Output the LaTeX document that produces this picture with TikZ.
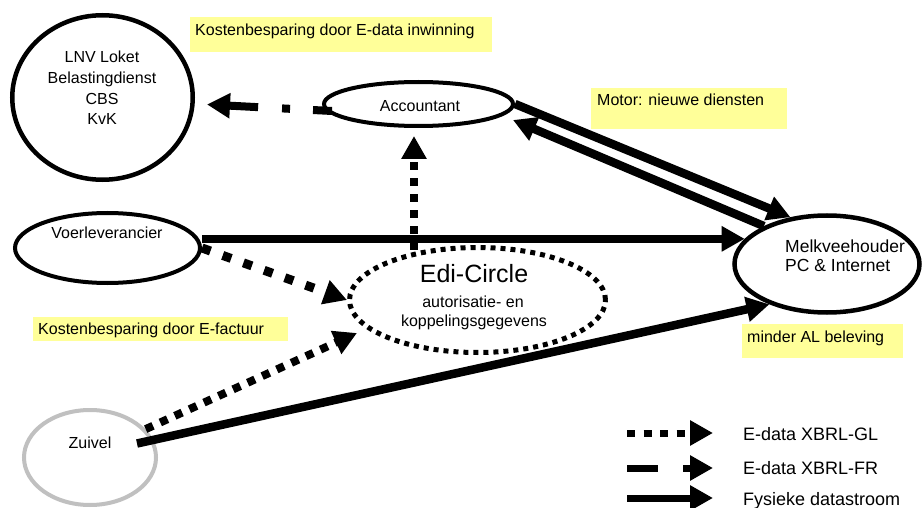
\documentclass[tikz,border=0pt]{standalone}
\usepackage{fontspec}
\setmainfont{Liberation Sans}
\usetikzlibrary{shapes.geometric,arrows.meta}
\definecolor{yboxc}{HTML}{FFFF99}
\definecolor{zgray}{HTML}{C0C0C0}
\begin{document}
\begin{tikzpicture}[x=1pt,y=-1pt,
  ell/.style={ellipse, draw, line width=4.5pt, inner sep=0pt},
  ybox/.style={fill=yboxc, draw=none, anchor=north west, inner sep=0pt},
  lbl/.style={font=\fontsize{16}{19}\selectfont, inner sep=0pt},
  biglbl/.style={font=\fontsize{25}{30}\selectfont, inner sep=0pt},
  melklbl/.style={font=\fontsize{17.5}{21}\selectfont, inner sep=0pt},
  leglbl/.style={font=\fontsize{18}{21}\selectfont, inner sep=0pt},
  tipstyle/.style={-{Triangle[length=23pt,width=24pt]}},
  solidarrow/.style={tipstyle, line width=8.5pt},
  glarrow/.style={tipstyle, line width=8pt, dash pattern=on 8pt off 8pt},
  glbig/.style={tipstyle, line width=9pt, dash pattern=on 9pt off 13pt},
  frarrow/.style={tipstyle, line width=8pt, dash pattern=on 19pt off 23pt on 8pt off 24pt on 300pt},
  legsolid/.style={tipstyle, line width=7pt},
  leggl/.style={tipstyle, line width=7pt, dash pattern=on 8pt off 8.5pt},
  legfr/.style={tipstyle, line width=7pt, dash pattern=on 31pt off 25pt on 60pt}
]
\useasboundingbox[fill=white] (0,0) rectangle (922,508);

% yellow label boxes
\node[ybox, minimum width=302pt, minimum height=35pt] (b1) at (190,17) {};
\node[lbl, anchor=base west] (b1t) at (195,35.7) {Kostenbesparing door E-data inwinning};
\node[ybox, minimum width=196pt, minimum height=41pt] (b2) at (591,88) {};
\node[lbl, anchor=base west] (b2t) at (597,106) {Motor: nieuwe diensten};
\node[ybox, minimum width=255pt, minimum height=24pt] (b3) at (33,317) {};
\node[lbl, anchor=base west] (b3t) at (38,334) {Kostenbesparing door E-factuur};
\node[ybox, minimum width=161pt, minimum height=34pt] (b4) at (742,324) {};
\node[lbl, anchor=base west] (b4t) at (747,342) {minder AL beleving};

% ellipses
\node[ell, minimum width=180.5pt, minimum height=164.5pt] (lnv) at (102.5,97.5) {};
\node[ell, line width=4pt, minimum width=189pt, minimum height=44pt] (acc) at (418.5,104) {};
\node[ell, line width=4pt, minimum width=185pt, minimum height=70pt] (voer) at (107.5,248) {};
\node[ell, minimum width=185pt, minimum height=97pt] (melk) at (827,264) {};
\node[ell, draw=zgray, line width=4pt, minimum width=132pt, minimum height=95pt] (zuivel) at (90,457.5) {};
\node[ell, line width=5pt, dash pattern=on 5pt off 5pt, minimum width=256pt, minimum height=105pt] (edi) at (477.5,300) {};

% texts
\node[lbl, anchor=base] (lnv1) at (102,63) {LNV Loket};
\node[lbl, anchor=base] (lnv2) at (102,84) {Belastingdienst};
\node[lbl, anchor=base] (lnv3) at (102,105) {CBS};
\node[lbl, anchor=base] (lnv4) at (102,125) {KvK};
\node[lbl, anchor=base] (acct) at (420,111.5) {Accountant};
\node[lbl, anchor=base] (voert) at (107,238.5) {Voerleverancier};
\node[biglbl, anchor=base] (edit) at (474,282) {Edi-Circle};
\node[lbl, anchor=base] (edit2) at (473,307) {autorisatie- en};
\node[lbl, anchor=base] (edit3) at (474,326) {koppelingsgegevens};
\node[melklbl, anchor=base west] (melk1) at (785,252) {Melkveehouder};
\node[melklbl, anchor=base west] (melk2) at (785,272) {PC \& Internet};
\node[lbl, anchor=base] (zuivt) at (90,448) {Zuivel};

% connectors
\draw[solidarrow] (acc.east) -- (melk.128);
\draw[solidarrow] (melk.149) -- ([shift={(-2,16)}]acc.east);
\draw[solidarrow] (voer.east |- melk.163) -- (melk.163);
\draw[solidarrow] ([shift={(47,-14)}]zuivel.center) -- (melk.215);
\draw[glbig] (voer.east) -- (edi.west);
\draw[glarrow] (zuivel.27) -- ([shift={(-120.5,33)}]edi.center);
\draw[glarrow] ([shift={(-63.5,-50)}]edi.center) -- ([shift={(-4.5,8)}]acc.south);
\draw[frarrow] ([shift={(10,7)}]acc.west) -- ([shift={(12,7)}]lnv.east);

% legend
\coordinate (l1a) at (627,433); \coordinate (l1b) at (713,433);
\coordinate (l2a) at (627,468); \coordinate (l2b) at (713,468);
\coordinate (l3a) at (627,498); \coordinate (l3b) at (713,498);
\draw[leggl] (l1a) -- (l1b);
\draw[legfr] (l2a) -- (l2b);
\draw[legsolid] (l3a) -- (l3b);
\node[leglbl, anchor=base west] (lg1) at (743,440) {E-data XBRL-GL};
\node[leglbl, anchor=base west] (lg2) at (743,474) {E-data XBRL-FR};
\node[leglbl, anchor=base west] (lg3) at (743,505) {Fysieke datastroom};
\end{tikzpicture}
\end{document}
